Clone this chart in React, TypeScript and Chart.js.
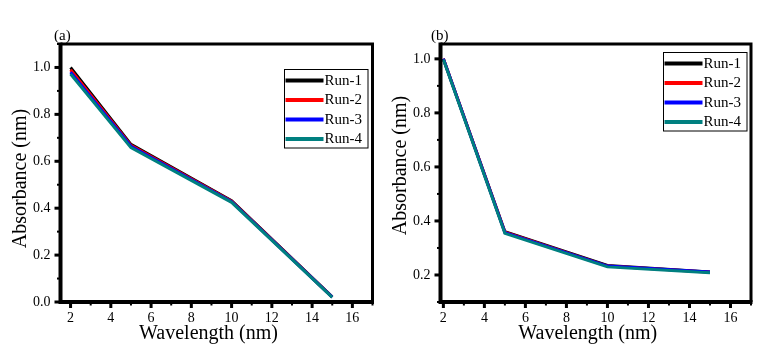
import React, { useEffect, useRef } from 'react';
import { Chart, registerables } from 'chart.js';

Chart.register(...registerables);

// ---------------- data ----------------
const wavelengths = [2, 5, 10, 15];
const runLabels = ['Run-1', 'Run-2', 'Run-3', 'Run-4'];
const runColors = ['#000000', '#ff0000', '#0000ff', '#008080'];

// panel (a)
const panelA_run1 = [1.0, 0.672, 0.432, 0.022];
const panelA_run2 = [0.99, 0.668, 0.43, 0.021];
const panelA_run3 = [0.98, 0.664, 0.428, 0.021];
const panelA_run4 = [0.972, 0.658, 0.425, 0.02];

// panel (b)
const panelB_run1 = [1.0, 0.36, 0.235, 0.211];
const panelB_run2 = [1.0, 0.358, 0.233, 0.21];
const panelB_run3 = [1.0, 0.357, 0.233, 0.211];
const panelB_run4 = [0.998, 0.354, 0.23, 0.208];

// tick labels
const xMajorTicks = [2, 4, 6, 8, 10, 12, 14, 16];
const yMajorTicksA = [0, 0.2, 0.4, 0.6, 0.8, 1.0];
const yMajorTicksB = [0.2, 0.4, 0.6, 0.8, 1.0];

const SERIF = "'Times New Roman', 'Liberation Serif', 'DejaVu Serif', serif";

type PanelCfg = {
  tag: string;
  runs: number[][];
  xMin: number;
  xMax: number;
  yMin: number;
  yMax: number;
  yTicks: number[];
  padRight: number;
  yWidth: number;
  yTitleShift: number;
  legendRightGap: number;
  legendTopGap: number;
  tagX: number;
};

function makeDecor(cfg: PanelCfg) {
  return {
    id: 'panelDecor',
    afterDatasetsDraw(chart: any) {
      const { ctx, chartArea: a, scales } = chart;
      const xs = scales.x;
      const ys = scales.y;
      ctx.save();
      ctx.strokeStyle = '#000';
      ctx.lineCap = 'butt';
      // x ticks (major every 2, minor every 1)
      for (let v = Math.ceil(cfg.xMin); v <= cfg.xMax + 1e-9; v += 1) {
        const px = xs.getPixelForValue(v);
        const major = v % 2 === 0;
        ctx.lineWidth = major ? 3 : 2;
        ctx.beginPath();
        ctx.moveTo(px, a.bottom);
        ctx.lineTo(px, a.bottom + (major ? 6 : 3.5));
        ctx.stroke();
      }
      // y ticks (major every 0.2, minor 0.1)
      for (let k = Math.ceil(cfg.yMin * 10 - 1e-6); k <= Math.floor(cfg.yMax * 10 + 1e-6); k++) {
        const v = k / 10;
        const py = ys.getPixelForValue(v);
        const major = k % 2 === 0;
        ctx.lineWidth = major ? 3 : 2;
        ctx.beginPath();
        ctx.moveTo(a.left, py);
        ctx.lineTo(a.left - (major ? 6 : 3.5), py);
        ctx.stroke();
      }
      // frame
      ctx.lineWidth = 4;
      ctx.beginPath();
      ctx.moveTo(a.left, a.top - 1.5);
      ctx.lineTo(a.left, a.bottom + 2);
      ctx.moveTo(a.left - 2, a.bottom);
      ctx.lineTo(a.right + 1.5, a.bottom);
      ctx.stroke();
      ctx.lineWidth = 3;
      ctx.beginPath();
      ctx.moveTo(a.left, a.top);
      ctx.lineTo(a.right, a.top);
      ctx.lineTo(a.right, a.bottom);
      ctx.stroke();

      // axis titles
      ctx.fillStyle = '#000';
      ctx.font = `20px ${SERIF}`;
      ctx.textAlign = 'center';
      ctx.textBaseline = 'middle';
      ctx.fillText('Wavelength (nm)', (a.left + a.right) / 2 - 8, a.bottom + 32);
      ctx.save();
      ctx.translate(a.left - 40, (a.top + a.bottom) / 2 + cfg.yTitleShift);
      ctx.rotate(-Math.PI / 2);
      ctx.fillText('Absorbance (nm)', 0, 0);
      ctx.restore();

      // panel tag
      ctx.font = `15px ${SERIF}`;
      ctx.textAlign = 'left';
      ctx.fillText(cfg.tag, cfg.tagX, a.top - 8);

      // legend box
      const bw = 83.5;
      const bh = 78.5;
      const bx = a.right - cfg.legendRightGap - bw;
      const by = a.top + cfg.legendTopGap;
      ctx.fillStyle = '#fff';
      ctx.fillRect(bx, by, bw, bh);
      ctx.lineWidth = 1;
      ctx.strokeStyle = '#000';
      ctx.strokeRect(Math.round(bx) + 0.5, Math.round(by) + 0.5, bw, bh);
      runLabels.forEach((lab, i) => {
        const ry = by + 11.5 + i * 19.5;
        ctx.strokeStyle = runColors[i];
        ctx.lineWidth = 4;
        ctx.beginPath();
        ctx.moveTo(bx + 2, ry);
        ctx.lineTo(bx + 40, ry);
        ctx.stroke();
        ctx.fillStyle = '#000';
        ctx.font = `15px ${SERIF}`;
        ctx.textAlign = 'left';
        ctx.textBaseline = 'middle';
        ctx.fillText(lab, bx + 41, ry + 0.5);
      });
      ctx.restore();
    },
  };
}

function Panel({ left, width, cfg }: { left: number; width: number; cfg: PanelCfg }) {
  const ref = useRef<HTMLCanvasElement | null>(null);
  useEffect(() => {
    const canvas = ref.current!;
    const datasets = cfg.runs.map((vals, i) => ({
      label: runLabels[i],
      data: wavelengths.map((w, j) => ({ x: w, y: vals[j] })),
      borderColor: runColors[i],
      backgroundColor: runColors[i],
      borderWidth: 3,
      pointRadius: 0,
      tension: 0,
      fill: false,
      order: runLabels.length - 1 - i,
    }));
    const chart = new Chart(canvas, {
      type: 'line',
      data: { datasets },
      options: {
        animation: false,
        responsive: false,
        devicePixelRatio: 1,
        layout: { padding: { left: 0, top: 44, right: cfg.padRight, bottom: 0 } },
        plugins: { legend: { display: false }, tooltip: { enabled: false } },
        scales: {
          x: {
            type: 'linear',
            min: cfg.xMin,
            max: cfg.xMax,
            grid: { display: false, drawTicks: false, tickLength: 0 },
            border: { display: false },
            afterBuildTicks: (s: any) => {
              s.ticks = xMajorTicks.map((v) => ({ value: v }));
            },
            afterFit: (s: any) => {
              s.height = 59;
            },
            ticks: {
              autoSkip: false,
              maxRotation: 0,
              minRotation: 0,
              padding: 8,
              color: '#000',
              font: { family: SERIF, size: 14 },
              callback: (v: any) => String(v),
            },
          },
          y: {
            type: 'linear',
            min: cfg.yMin,
            max: cfg.yMax,
            grid: { display: false, drawTicks: false, tickLength: 0 },
            border: { display: false },
            afterBuildTicks: (s: any) => {
              s.ticks = cfg.yTicks.map((v) => ({ value: v }));
            },
            afterFit: (s: any) => {
              s.width = cfg.yWidth;
            },
            ticks: {
              autoSkip: false,
              padding: 10,
              color: '#000',
              font: { family: SERIF, size: 14 },
              callback: (v: any) => Number(v).toFixed(1),
            },
          },
        },
      },
      plugins: [makeDecor(cfg)],
    } as any);
    return () => chart.destroy();
  }, []);
  return (
    <canvas
      ref={ref}
      width={width}
      height={361}
      style={{ position: 'absolute', left, top: 0, width, height: 361 }}
    />
  );
}

const cfgA: PanelCfg = {
  tag: '(a)',
  runs: [panelA_run1, panelA_run2, panelA_run3, panelA_run4],
  xMin: 1.5,
  xMax: 17,
  yMin: 0,
  yMax: 1.1,
  yTicks: yMajorTicksA,
  padRight: 12.5,
  yWidth: 60.5,
  yTitleShift: 5.5,
  legendRightGap: 5.5,
  legendTopGap: 25,
  tagX: 54,
};

const cfgB: PanelCfg = {
  tag: '(b)',
  runs: [panelB_run1, panelB_run2, panelB_run3, panelB_run4],
  xMin: 1.86,
  xMax: 17,
  yMin: 0.1,
  yMax: 1.055,
  yTicks: yMajorTicksB,
  padRight: 18,
  yWidth: 55.5,
  yTitleShift: -7.5,
  legendRightGap: 5,
  legendTopGap: 8,
  tagX: 46,
};

export default function App() {
  return (
    <div
      style={{
        position: 'fixed',
        left: 0,
        top: 0,
        width: 769,
        height: 361,
        background: '#fff',
        overflow: 'hidden',
      }}
    >
      <Panel left={0} width={385} cfg={cfgA} />
      <Panel left={385} width={384} cfg={cfgB} />
    </div>
  );
}
